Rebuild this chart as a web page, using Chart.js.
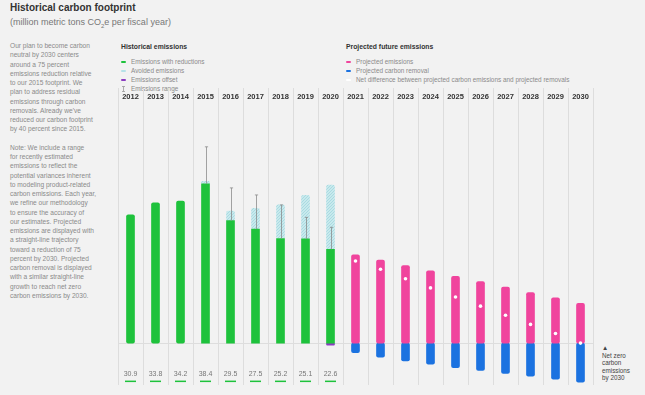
<!DOCTYPE html>
<html lang="en">
<head>
<meta charset="UTF-8">
<title>Historical carbon footprint</title>
<script src="https://cdn.jsdelivr.net/npm/chart.js"></script>
<style>
  body { margin: 0; width: 645px; height: 395px; background: #f2f2f2; font-family: "Liberation Sans", Arial, sans-serif; position: relative; overflow: hidden; }
  #title { position: absolute; left: 10px; top: 2px; font-size: 10px; font-weight: bold; color: #333; }
  #sub { position: absolute; left: 10px; top: 17px; font-size: 9px; color: #777; }
  #sub sub { font-size: 6px; }
  #side { position: absolute; left: 10px; top: 41px; width: 108px; font-size: 6.6px; line-height: 9.25px; color: #8a8a8a; }
  #side p { margin: 0 0 9.25px 0; }
  .lg { position: absolute; font-size: 6.4px; color: #8a8a8a; }
  .lg b { display: block; color: #333; font-size: 6.8px; margin-bottom: 7px; }
  .lg div { height: 9px; line-height: 9px; white-space: nowrap; }
  .sw { display: inline-block; width: 5px; height: 2px; border-radius: 1px; vertical-align: middle; margin: 0 5px 1px 0; }
  #nz { position: absolute; left: 602px; top: 344px; font-size: 6.3px; line-height: 7.6px; color: #444; }
  canvas { position: absolute; left: 0; top: 0; }
</style>
</head>
<body>
  <div id="title">Historical carbon footprint</div>
  <div id="sub">(million metric tons CO<sub>2</sub>e per fiscal year)</div>

  <div id="side">
    <p>Our plan to become carbon<br>neutral by 2030 centers<br>around a 75 percent<br>emissions reduction relative<br>to our 2015 footprint. We<br>plan to address residual<br>emissions through carbon<br>removals. Already we've<br>reduced our carbon footprint<br>by 40 percent since 2015.</p>
    <p>Note: We include a range<br>for recently estimated<br>emissions to reflect the<br>potential variances inherent<br>to modeling product-related<br>carbon emissions. Each year,<br>we refine our methodology<br>to ensure the accuracy of<br>our estimates. Projected<br>emissions are displayed with<br>a straight-line trajectory<br>toward a reduction of 75<br>percent by 2030. Projected<br>carbon removal is displayed<br>with a similar straight-line<br>growth to reach net zero<br>carbon emissions by 2030.</p>
  </div>

  <div class="lg" style="left:121px; top:43px;">
    <b>Historical emissions</b>
    <div><span class="sw" style="background:#1ec23c"></span>Emissions with reductions</div>
    <div><span class="sw" style="background:#b5e2e8"></span>Avoided emissions</div>
    <div><span class="sw" style="background:#8b3dc0"></span>Emissions offset</div>
    <div><svg width="5" height="6" style="vertical-align:middle;margin:0 5px 1px 0"><path d="M1 0.5H4M2.5 0.5V5.5M1 5.5H4" stroke="#999" stroke-width="0.8" fill="none"/></svg>Emissions range</div>
  </div>

  <div class="lg" style="left:346px; top:43px;">
    <b>Projected future emissions</b>
    <div><span class="sw" style="background:#f0449d"></span>Projected emissions</div>
    <div><span class="sw" style="background:#1b72e0"></span>Projected carbon removal</div>
    <div><span class="sw" style="background:#ffffff"></span>Net difference between projected carbon emissions and projected removals</div>
  </div>

  <div id="nz">&#9650;<br>Net zero<br>carbon<br>emissions<br>by 2030</div>

  <canvas id="chart" width="645" height="395"></canvas>

<script>
  // values (million metric tons CO2e)
  const years = ['2012','2013','2014','2015','2016','2017','2018','2019','2020',
                 '2021','2022','2023','2024','2025','2026','2027','2028','2029','2030'];
  const withReductions = [30.9, 33.8, 34.2, 38.4, 29.5, 27.5, 25.2, 25.1, 22.6,
                          null, null, null, null, null, null, null, null, null, null];
  const avoided = [null, null, null, 0.6, 2.3, 5.0, 8.1, 10.5, 15.5,
                   null, null, null, null, null, null, null, null, null, null];
  const offset = [null, null, null, null, null, null, null, null, -0.5,
                  null, null, null, null, null, null, null, null, null, null];
  const rangeLow = [null, null, null, 38.4, 29.5, 27.5, 25.2, 25.1, 22.6,
                    null, null, null, null, null, null, null, null, null, null];
  const rangeHigh = [null, null, null, 47.3, 37.4, 35.7, 33.3, 30.3, 27.9,
                     null, null, null, null, null, null, null, null, null, null];
  const projected = [null, null, null, null, null, null, null, null, null,
                     21.3, 20.0, 18.7, 17.4, 16.1, 14.8, 13.5, 12.2, 10.9, 9.6];
  const removal = [null, null, null, null, null, null, null, null, null,
                   -2.3, -3.4, -4.3, -5.1, -5.9, -6.6, -7.3, -8.0, -8.7, -9.4];
  const netDiff = [null, null, null, null, null, null, null, null, null,
                   19.8, 17.8, 15.5, 13.3, 11.1, 8.9, 6.7, 4.5, 2.3, 0];

  function hatch() {
    const c = document.createElement('canvas');
    c.width = 3; c.height = 3;
    const g = c.getContext('2d');
    g.fillStyle = '#c8e9ed';
    g.fillRect(0, 0, 3, 3);
    g.strokeStyle = '#a9dbe1';
    g.lineWidth = 1;
    g.beginPath(); g.moveTo(0, 3); g.lineTo(3, 0); g.stroke();
    return g.createPattern(c, 'repeat');
  }

  // grid separators, baseline, error bars and the value row under the columns
  const decor = {
    id: 'decor',
    beforeDatasetsDraw(chart) {
      const { ctx, chartArea, scales: { x, y } } = chart;
      ctx.save();
      ctx.strokeStyle = '#dddddd';
      ctx.lineWidth = 1;
      for (let i = 0; i <= years.length; i++) {
        const px = Math.round(x.getPixelForValue(i - 0.5)) + 0.5;
        ctx.beginPath(); ctx.moveTo(px, 88); ctx.lineTo(px, chartArea.bottom); ctx.stroke();
      }
      const y0 = Math.round(y.getPixelForValue(0)) + 0.5;
      ctx.beginPath(); ctx.moveTo(chartArea.left, y0); ctx.lineTo(chartArea.right, y0); ctx.stroke();
      ctx.restore();
    },
    afterDatasetsDraw(chart) {
      const { ctx, scales: { x, y } } = chart;
      ctx.save();
      ctx.strokeStyle = '#8c8c8c';
      ctx.lineWidth = 0.8;
      rangeHigh.forEach((hi, i) => {
        if (hi == null) return;
        const px = Math.round(x.getPixelForValue(i)) + 0.5;
        const top = y.getPixelForValue(hi), bot = y.getPixelForValue(rangeLow[i]);
        ctx.beginPath();
        ctx.moveTo(px, bot); ctx.lineTo(px, top);
        ctx.moveTo(px - 1.6, top); ctx.lineTo(px + 1.6, top);
        ctx.stroke();
      });
      const y0 = y.getPixelForValue(0);
      ctx.font = '7px "Liberation Sans", Arial, sans-serif';
      ctx.textAlign = 'center';
      ctx.textBaseline = 'middle';
      withReductions.forEach((v, i) => {
        if (v == null) return;
        const px = x.getPixelForValue(i);
        ctx.fillStyle = '#777';
        ctx.fillText(v.toFixed(1), px, y0 + 31);
        ctx.fillStyle = '#1ec23c';
        ctx.fillRect(px - 5.5, y0 + 37.5, 11, 1.5);
      });
      ctx.restore();
    }
  };

  const bar = { barThickness: 8, borderRadius: 2, borderSkipped: false, order: 1 };

  new Chart(document.getElementById('chart'), {
    type: 'bar',
    data: {
      labels: years,
      datasets: [
        { label: 'Net difference', type: 'line', data: netDiff, stack: 'net', order: 0,
          showLine: false, pointRadius: 1.8, pointBackgroundColor: '#ffffff', pointBorderWidth: 0 },
        { ...bar, label: 'Emissions with reductions', data: withReductions, backgroundColor: '#1ec23c' },
        { ...bar, label: 'Avoided emissions', data: avoided, backgroundColor: hatch() },
        { ...bar, label: 'Emissions offset', data: offset, backgroundColor: '#8b3dc0' },
        { ...bar, label: 'Projected emissions', data: projected, backgroundColor: '#f0449d' },
        { ...bar, label: 'Projected carbon removal', data: removal, backgroundColor: '#1b72e0' }
      ]
    },
    options: {
      responsive: false,
      animation: false,
      events: [],
      layout: { padding: { left: 118, right: 52, top: 85.5, bottom: 10 } },
      plugins: { legend: { display: false }, tooltip: { enabled: false } },
      scales: {
        x: {
          position: 'top',
          stacked: true,
          offset: true,
          grid: { display: false },
          border: { display: false },
          afterFit(scale) { scale.height = 19; },
          ticks: { color: '#333', padding: -5, maxRotation: 0, autoSkip: false,
                   font: { family: '"Liberation Sans", Arial, sans-serif', size: 7.5, weight: 'bold' } }
        },
        y: { display: false, stacked: true, min: -10.1, max: 57.5 }
      }
    },
    plugins: [decor]
  });
</script>
</body>
</html>
